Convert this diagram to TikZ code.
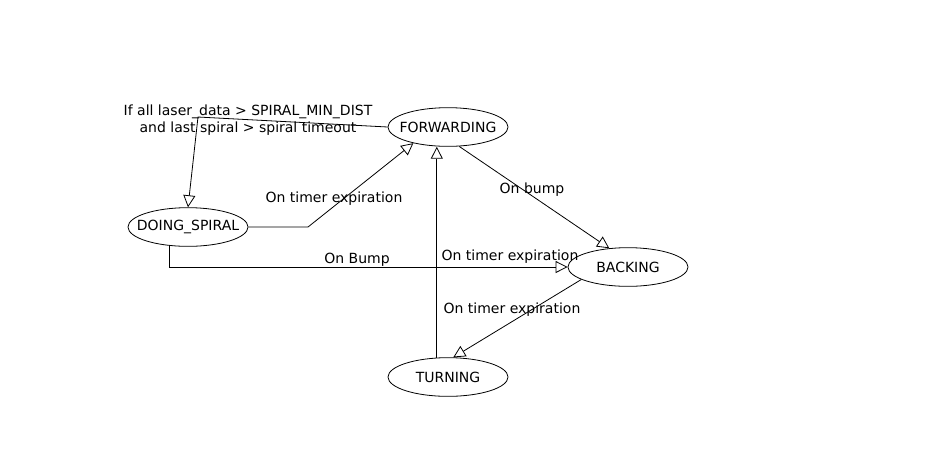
\documentclass[tikz,border=0pt]{standalone}
\usepackage{fontspec}
\setmainfont{DejaVu Sans}
\usepackage{tikz}
\usetikzlibrary{shapes,arrows.meta,positioning}

\begin{document}
\begin{tikzpicture}[x=0.75pt,y=-0.75pt,
    state/.style={ellipse,draw,line width=0.6pt,inner sep=0pt,minimum width=90pt,minimum height=29pt,font=\fontsize{10.5}{12}\selectfont},
    trans/.style={line width=0.6pt,-{Triangle[open,length=9pt,width=9pt]}},
    lbl/.style={inner sep=0pt,font=\fontsize{10.5}{13}\selectfont}]
    % State machine of the robot
    \useasboundingbox (0,0) rectangle (929,462);
    \node[state] (fwd) at (448,127) {\makebox[0pt]{FORWARDING}};
    \node[state] (spiral) at (188,227) {\makebox[0pt]{DOING\_SPIRAL}};
    \node[state] (back) at (628,267) {\makebox[0pt]{BACKING}};
    \node[state] (turn) at (448,377) {\makebox[0pt]{TURNING}};
    \coordinate (b1) at (198,117);
    \coordinate (b2) at (308,227);
    \draw[trans] (fwd.west) -- (b1) -- (spiral.north);
    \draw[trans] (spiral.east) -- (b2) -- (fwd.205);
    \draw[trans] (spiral.225) -- (spiral.225 |- back.west) -- (back.west);
    \draw[trans] (fwd.300) -- (back.135);
    \draw[trans] (turn.120) -- (turn.120 |- fwd.south);
    \draw[trans] (back.195) -- (turn.75);
    \node[lbl,align=center] (l1) at (248,120) {If all laser\_data > SPIRAL\_MIN\_DIST\\and last spiral > spiral timeout};
    \node[lbl] (l2) at (334,199) {On timer expiration};
    \node[lbl] (l3) at (357,260) {On Bump};
    \node[lbl] (l4) at (532,190) {On bump};
    \node[lbl] (l5) at (510,257) {On timer expiration};
    \node[lbl] (l6) at (512,310) {On timer expiration};
\end{tikzpicture}
\end{document}
